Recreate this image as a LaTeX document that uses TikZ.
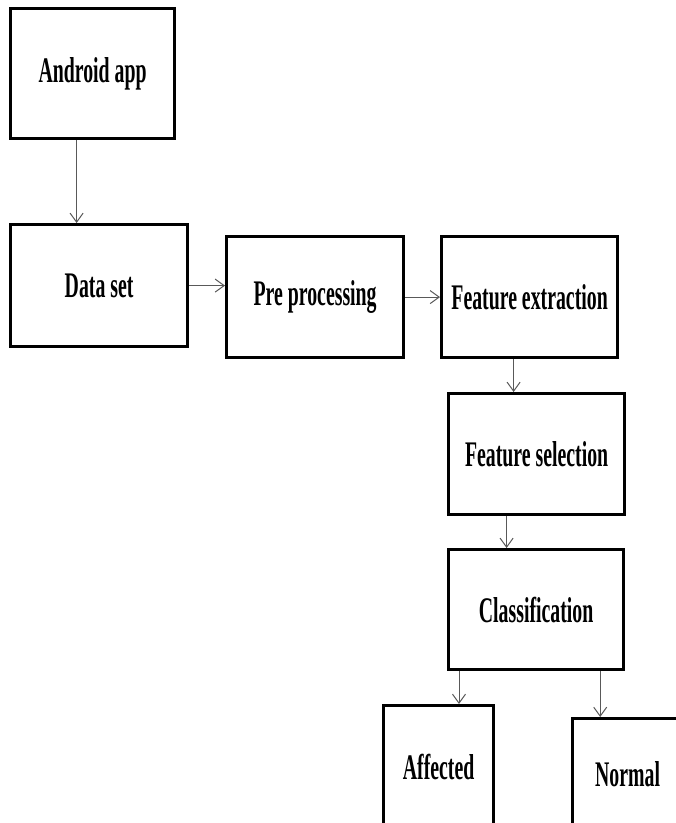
\documentclass[tikz,border=0pt]{standalone}
\usepackage{fontspec}
\setmainfont{Liberation Serif}
\usetikzlibrary{arrows.meta}
\newcommand{\boxtxt}[1]{\scalebox{0.55}[1]{\fontsize{36}{40}\selectfont\bfseries #1}}
\tikzset{
  stepbox/.style={draw=black, line width=3.2pt, fill=white, inner sep=0pt, anchor=north west},
  arr/.style={draw=black!65, line width=1pt, -{Straight Barb[length=9pt,width=13pt]}}
}
\begin{document}
\begin{tikzpicture}[x=1pt,y=-1pt]
\useasboundingbox (0,0) rectangle (676,823);
\clip (0,0) rectangle (676,823);
\fill[white] (0,0) rectangle (676,823);
\node[stepbox, minimum width=164pt, minimum height=130pt] (and) at (9,7) {\boxtxt{Android app}};
\node[stepbox, minimum width=177pt, minimum height=122pt] (ds) at (9,223) {\boxtxt{Data set}};
\node[stepbox, minimum width=177pt, minimum height=121pt] (pp) at (225,235) {\boxtxt{Pre processing}};
\node[stepbox, minimum width=176pt, minimum height=121pt] (fe) at (440,235) {\boxtxt{Feature extraction}};
\node[stepbox, minimum width=176pt, minimum height=121pt] (fs) at (447,392) {\boxtxt{Feature selection}};
\node[stepbox, minimum width=175pt, minimum height=120pt] (cl) at (447,548) {\boxtxt{Classification}};
\node[stepbox, minimum width=110pt, minimum height=122pt] (aff) at (382,704) {\boxtxt{Affected}};
\node[stepbox, minimum width=110pt, minimum height=112pt] (nor) at (571,717) {\boxtxt{Normal}};
\draw[arr] ([xshift=-16pt]and.south) -- ([xshift=-16pt]and.south |- ds.north);
\draw[arr] (ds.east) -- (pp.west |- ds.east);
\draw[arr] (pp.east) -- (fe.west |- pp.east);
\draw[arr] ([xshift=-16pt]fe.south) -- ([xshift=-16pt]fe.south |- fs.north);
\draw[arr] ([xshift=-30pt]fs.south) -- ([xshift=-30pt]fs.south |- cl.north);
\draw[arr] ([xshift=12pt]cl.south west) -- ([xshift=12pt]cl.south west |- aff.north);
\draw[arr] ([xshift=-25pt]cl.south east) -- ([xshift=-25pt]cl.south east |- nor.north);
\end{tikzpicture}
\end{document}
